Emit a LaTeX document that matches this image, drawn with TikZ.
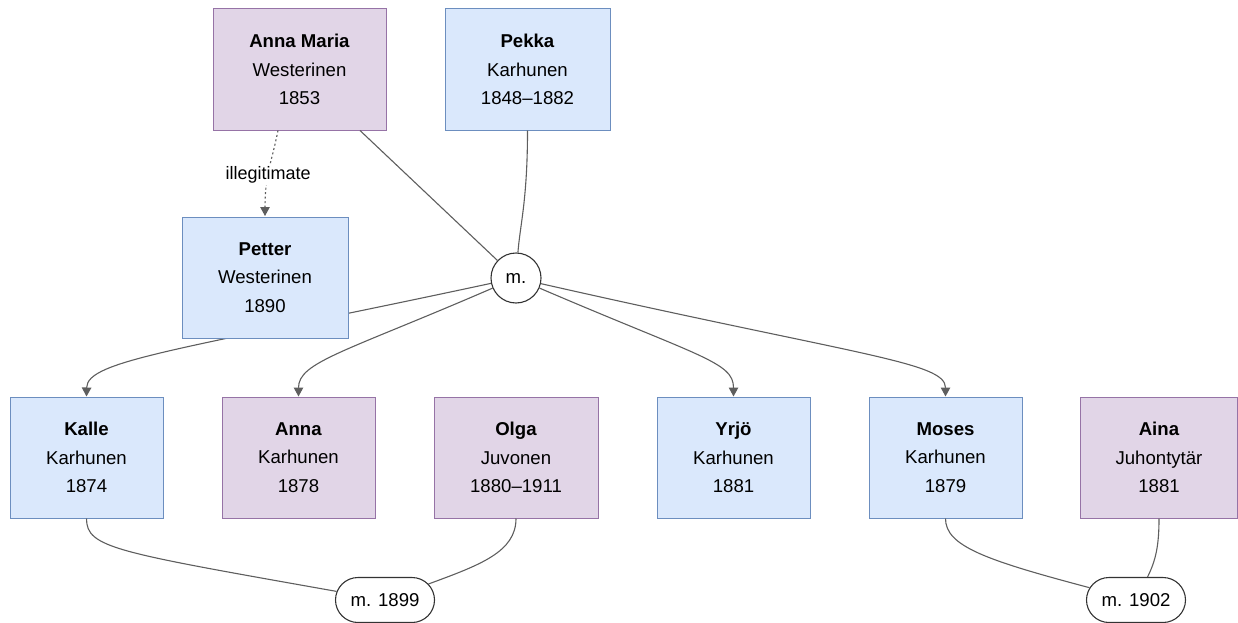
\documentclass[tikz,border=0pt]{standalone}
\usepackage{fontspec}
\setmainfont{Liberation Sans}
\usetikzlibrary{arrows.meta,shapes.misc}

\definecolor{femfill}{HTML}{E1D5E7}
\definecolor{femline}{HTML}{9673A6}
\definecolor{malfill}{HTML}{DAE8FC}
\definecolor{malline}{HTML}{6C8EBF}
\definecolor{linkgray}{HTML}{5E5E5E}
\definecolor{marline}{HTML}{333333}

\tikzset{
  person/.style={rectangle, align=center, line width=1pt,
    minimum height=121pt, inner sep=0pt,
    font=\fontsize{18.6}{28.5}\selectfont},
  fem/.style={person, fill=femfill, draw=femline},
  mal/.style={person, fill=malfill, draw=malline},
  union/.style={circle, draw=marline, fill=white, line width=1.1pt,
    minimum size=50pt, inner sep=0pt, font=\fontsize{18.6}{22}\selectfont},
  wedding/.style={rounded rectangle, draw=marline, fill=white, line width=1.1pt,
    minimum width=99pt, minimum height=45pt, inner sep=0pt,
    font=\fontsize{18.6}{22}\selectfont},
  link/.style={draw=linkgray, line width=1.1pt},
  child/.style={link, -{Triangle[length=9pt,width=9.5pt]}, shorten >=0.5pt},
  illeg/.style={child, dash pattern=on 2pt off 2.5pt},
  tag/.style={fill=white, inner sep=2pt, font=\fontsize{18}{22}\selectfont}
}

\begin{document}
\begin{tikzpicture}[x=1pt,y=-1pt]
\useasboundingbox (0,0) rectangle (1238,623);

% marriage hub of Pekka and Anna Maria
\node[union] (m) at (516,278) {m.};

% descendants of the Karhunen couple (drawn beneath the boxes)
\draw[child] (m) .. controls (180,350) and (87,360) .. (86.5,397);
\draw[child] (m) .. controls (345,352) and (298.5,362) .. (298.5,397);
\draw[child] (m) .. controls (700,357) and (733.5,362) .. (733.5,397);
\draw[child] (m) .. controls (860,356) and (945.5,362) .. (945.5,397);

% generation one
\node[fem, minimum width=173pt] (am) at (299.5,69.5) {\textbf{Anna Maria}\\Westerinen\\1853};
\node[mal, minimum width=165pt] (pk) at (527.5,69.5) {\textbf{Pekka}\\Karhunen\\1848–1882};

% generation two
\node[mal, minimum width=166pt] (pt) at (265,277.5) {\textbf{Petter}\\Westerinen\\1890};
\node[mal, minimum width=153pt] (ka) at (86.5,457.5) {\textbf{Kalle}\\Karhunen\\1874};
\node[fem, minimum width=153pt] (an) at (298.5,457.5) {\textbf{Anna}\\Karhunen\\1878};
\node[fem, minimum width=164pt] (ol) at (516,457.5) {\textbf{Olga}\\Juvonen\\1880–1911};
\node[mal, minimum width=153pt] (yr) at (733.5,457.5) {\textbf{Yrjö}\\Karhunen\\1881};
\node[mal, minimum width=153pt] (mo) at (945.5,457.5) {\textbf{Moses}\\Karhunen\\1879};
\node[fem, minimum width=157pt] (ai) at (1159,457.5) {\textbf{Aina}\\Juhontytär\\1881};

% parents joining the marriage
\draw[link] ([xshift=60.5pt]am.south) -- (m);
\draw[link] (pk.south) .. controls (527.5,200) and (520,225) .. (m);

% illegitimate son
\draw[illeg] ([xshift=-21.5pt]am.south) .. controls (271,165) and (265,175) .. (pt.north)
  node[tag, pos=0.55] (il) {illegitimate};

% later marriages
\node[wedding] (w1) at (385,600) {m. 1899};
\node[wedding] (w2) at (1136,600) {m. 1902};
\draw[link] (ka.south) .. controls (86.5,548) and (115,552) .. (w1);
\draw[link] (ol.south) .. controls (516,552) and (480,565) .. (w1);
\draw[link] (mo.south) .. controls (945.5,546) and (985,560) .. (w2);
\draw[link] (ai.south) .. controls (1159,545) and (1156,560) .. (w2);
\end{tikzpicture}
\end{document}
